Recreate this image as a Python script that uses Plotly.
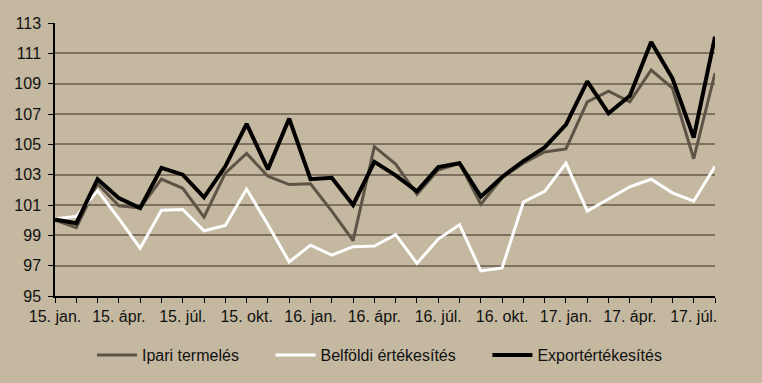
import plotly.graph_objects as go

months = [
    "15. jan.", "15. febr.", "15. márc.", "15. ápr.", "15. máj.", "15. jún.",
    "15. júl.", "15. aug.", "15. szept.", "15. okt.", "15. nov.", "15. dec.",
    "16. jan.", "16. febr.", "16. márc.", "16. ápr.", "16. máj.", "16. jún.",
    "16. júl.", "16. aug.", "16. szept.", "16. okt.", "16. nov.", "16. dec.",
    "17. jan.", "17. febr.", "17. márc.", "17. ápr.", "17. máj.", "17. jún.",
    "17. júl.", "17. aug.",
]
labeled_months = [
    "15. jan.", "15. ápr.", "15. júl.", "15. okt.",
    "16. jan.", "16. ápr.", "16. júl.", "16. okt.",
    "17. jan.", "17. ápr.", "17. júl.",
]

ipari = [100.0, 99.5, 102.4, 100.95, 100.8, 102.7, 102.1, 100.2, 103.1, 104.4,
         102.9, 102.35, 102.4, 100.6, 98.65, 104.85, 103.7, 101.7, 103.3, 103.75,
         101.05, 102.8, 103.75, 104.5, 104.7, 107.8, 108.5, 107.8, 109.9, 108.7,
         104.05, 109.7]
belfoldi = [100.1, 100.25, 101.95, 100.1, 98.15, 100.65, 100.7, 99.3, 99.65, 102.05,
            99.7, 97.25, 98.35, 97.7, 98.25, 98.3, 99.05, 97.15, 98.75, 99.7,
            96.65, 96.85, 101.2, 101.9, 103.75, 100.6, 101.4, 102.2, 102.7, 101.8,
            101.25, 103.55]
export = [100.05, 99.8, 102.7, 101.45, 100.8, 103.45, 103.0, 101.5, 103.55, 106.35,
          103.35, 106.7, 102.7, 102.8, 101.0, 103.85, 102.95, 101.9, 103.5, 103.75,
          101.55, 102.85, 103.9, 104.8, 106.3, 109.15, 107.05, 108.2, 111.75, 109.35,
          105.45, 112.1]

series_names = ["Ipari termelés", "Belföldi értékesítés", "Exportértékesítés"]
y_ticks = list(range(95, 114, 2))

BG = "#C4B8A0"
GRID = "#7E7160"
FONT = "Liberation Sans, Arial, sans-serif"
PAD = "\u00a0" * 6

fig = go.Figure()
fig.add_trace(go.Scatter(x=months, y=ipari, mode="lines", name=series_names[0] + PAD,
                         line=dict(color="#5E5446", width=3)))
fig.add_trace(go.Scatter(x=months, y=belfoldi, mode="lines", name=series_names[1] + PAD,
                         line=dict(color="#FFFFFF", width=3)))
fig.add_trace(go.Scatter(x=months, y=export, mode="lines", name=series_names[2],
                         line=dict(color="#000000", width=4)))

fig.update_layout(
    width=762, height=383,
    margin=dict(l=55, r=47, t=23, b=86),
    paper_bgcolor=BG, plot_bgcolor=BG,
    font=dict(family=FONT, size=16, color="#111111"),
    showlegend=True,
    legend=dict(orientation="h", x=0.4916, xanchor="center", y=-0.212, yanchor="middle",
                bgcolor="rgba(0,0,0,0)", font=dict(size=16), itemwidth=40),
)
fig.update_xaxes(
    type="category", range=[0, len(months) - 1],
    tickmode="array", tickvals=months,
    ticktext=[m if m in labeled_months else "" for m in months],
    ticks="outside", ticklen=5, tickcolor="#000000", tickwidth=1,
    showline=True, linecolor="#000000", linewidth=1.5,
    showgrid=False, zeroline=False, tickangle=0,
)
fig.update_yaxes(
    range=[95, 113], tickmode="array", tickvals=y_ticks,
    ticks="outside", ticklen=5, tickcolor="#000000", tickwidth=1,
    showline=True, linecolor="#000000", linewidth=1.5,
    showgrid=True, gridcolor=GRID, gridwidth=2, zeroline=False,
    ticklabelstandoff=4,
)

fig.write_html(
    "out.html",
    config={"displayModeBar": False},
    post_script="document.body.style.margin='0';document.body.style.background='" + BG + "';",
)
